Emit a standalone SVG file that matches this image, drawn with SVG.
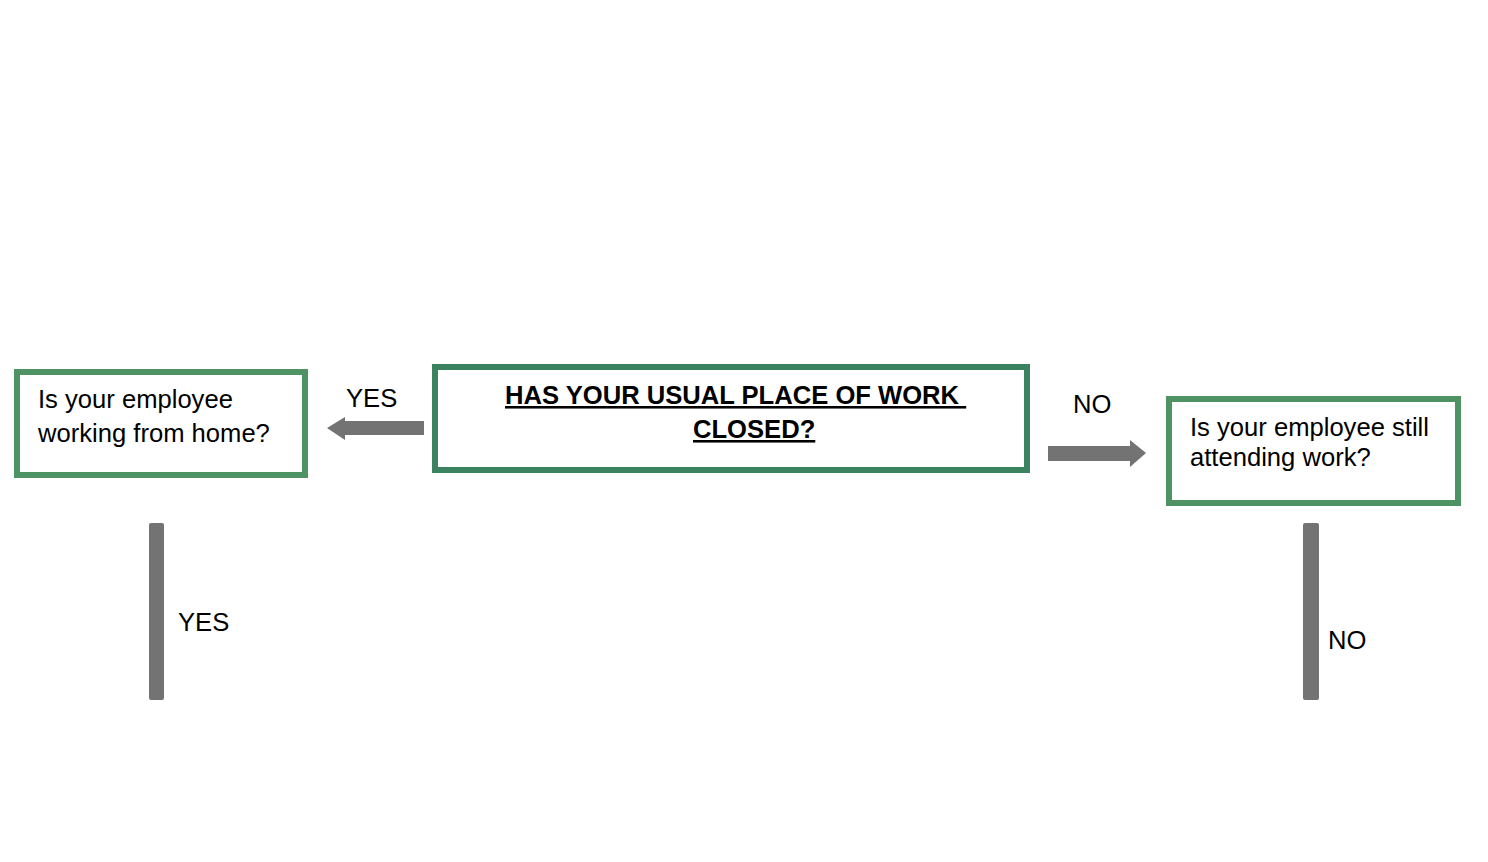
<svg xmlns="http://www.w3.org/2000/svg" width="1488" height="862" viewBox="0 0 1488 862">
<style>
.box{fill:#fff;stroke-width:6}
.t{font-family:"Liberation Sans",Arial,sans-serif;font-size:25.6px;fill:#000}
.h{font-family:"Liberation Sans",Arial,sans-serif;font-size:25.6px;font-weight:bold;fill:#000;text-decoration:underline}
.c{fill:#737373}
</style>
<rect width="1488" height="862" fill="#fff"/>
<g id="connectors">
<path class="c" d="M424,421 L345,421 L345,417 L327,428 L345,440 L345,435 L424,435 Z"/>
<path class="c" d="M1048,446 L1130,446 L1130,440 L1146,453 L1130,467 L1130,461 L1048,461 Z"/>
<rect class="c" x="149" y="523" width="15" height="177" rx="2"/>
<rect class="c" x="1303" y="523" width="16" height="177" rx="2"/>
<text class="t" x="346" y="407">YES</text>
<text class="t" x="1073" y="413">NO</text>
<text class="t" x="178" y="631">YES</text>
<text class="t" x="1328" y="649">NO</text>
</g>
<g id="node-left">
<rect class="box" x="17" y="372" width="288" height="103" stroke="#4f9264"/>
<text class="t" x="38" y="408">Is your employee</text>
<text class="t" x="38" y="442">working from home?</text>
</g>
<g id="node-center">
<rect class="box" x="435" y="367" width="592" height="103" stroke="#3b8261"/>
<text class="h" x="505" y="404">HAS YOUR USUAL PLACE OF WORK&#160;</text>
<text class="h" x="693" y="438">CLOSED?</text>
</g>
<g id="node-right">
<rect class="box" x="1169" y="399" width="289" height="104" stroke="#4f9264"/>
<text class="t" x="1190" y="436">Is your employee still</text>
<text class="t" x="1190" y="466">attending work?</text>
</g>
</svg>
